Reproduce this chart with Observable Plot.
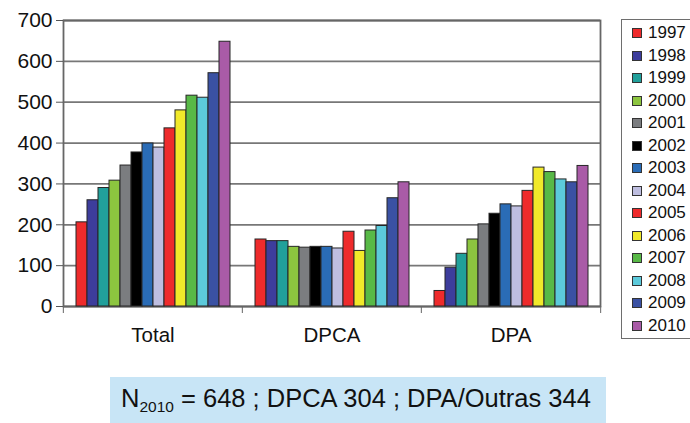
<!DOCTYPE html>
<html>
<head>
<meta charset="utf-8">
<script src="https://cdn.jsdelivr.net/npm/d3@7"></script>
<script src="https://cdn.jsdelivr.net/npm/@observablehq/plot@0.6"></script>
<style>
  html, body { margin: 0; padding: 0; background: #fff; }
  #page { position: relative; width: 690px; height: 423px; overflow: hidden; font-family: "Liberation Sans", Arial, sans-serif; }
  #chart { position: absolute; left: 0; top: 0; }
  #legend { position: absolute; left: 621px; top: 19px; width: 90px; height: 320px; border: 1.5px solid #6e6e6e; box-sizing: border-box; }
  .row { position: absolute; left: 10px; height: 20px; display: flex; align-items: center; font-size: 17px; color: #111; }
  .sw { width: 8px; height: 8px; border: 1px solid #333; margin-right: 6px; }
  #caption { position: absolute; left: 110px; top: 377px; width: 496px; height: 50px; background: #c8e5f6; }
  #caption .txt { position: absolute; left: 11px; top: 7px; font-size: 25.5px; color: #111; white-space: nowrap; }
  #caption sub { font-size: 15.5px; vertical-align: -5px; }
</style>
</head>
<body>
<div id="page">
  <div id="chart"></div>
  <div id="legend"></div>
  <div id="caption"><div class="txt">N<sub>2010</sub> = 648 ; DPCA 304 ; DPA/Outras 344</div></div>
</div>
<script>
const groups = ["Total", "DPCA", "DPA"];
const years = ["1997","1998","1999","2000","2001","2002","2003","2004","2005","2006","2007","2008","2009","2010"];
const totalValues = [206, 260, 290, 308, 345, 377, 399, 389, 436, 480, 516, 511, 571, 648];
const dpcaValues  = [164, 160, 160, 146, 144, 146, 146, 142, 183, 136, 186, 197, 265, 304];
const dpaValues   = [38, 95, 129, 164, 201, 227, 250, 245, 283, 340, 329, 311, 304, 344];
const colors = ["#ee2b2c","#3d3d9c","#21a09b","#8cc53f","#7b7d80","#000000","#2a6cb6","#bebee0","#ee2b2c","#f1e92a","#58b947","#5ccadb","#3a51a3","#a95ba7"];
const yTicks = [0, 100, 200, 300, 400, 500, 600, 700];

const seriesByGroup = {Total: totalValues, DPCA: dpcaValues, DPA: dpaValues};
const data = groups.flatMap(g => years.map((y, i) => ({group: g, year: y, value: seriesByGroup[g][i]})));

const W = 690, H = 350, ML = 62, MR = 90, MT = 20, MB = 44;
const bw = (W - ML - MR) / groups.length;

const chart = Plot.plot({
  width: W, height: H,
  marginLeft: ML, marginRight: MR, marginTop: MT, marginBottom: MB,
  style: {fontFamily: "Liberation Sans, Arial, sans-serif", fontSize: "20px", color: "#111", background: "transparent"},
  fx: {domain: groups, padding: 0, label: null},
  x: {domain: years, paddingInner: 0, paddingOuter: 0.75, axis: null},
  y: {axis: null, domain: [0, 700]},
  color: {type: "ordinal", domain: years, range: colors},
  marks: [
    Plot.ruleY(yTicks, {stroke: "#777", strokeWidth: 1.8}),
    Plot.frame({facet: "super", stroke: "#666", strokeWidth: 1.8}),
    Plot.barY(data, {fx: "group", x: "year", y: "value", fill: "year", stroke: "#262626", strokeWidth: 1}),
    Plot.axisY({ticks: yTicks, tickSize: 7, tickPadding: 4, fontSize: 21, label: null, stroke: "#555"}),
    Plot.axisFx({anchor: "bottom", tickSize: 7, tickFormat: () => "", dx: -bw / 2, stroke: "#666", label: null}),
    Plot.axisFx({anchor: "bottom", ticks: ["DPA"], tickSize: 7, tickFormat: () => "", dx: bw / 2, stroke: "#666", label: null}),
    Plot.axisFx({anchor: "bottom", tickSize: 0, tickPadding: 21, fontSize: 20.5, label: null})
  ]
});
document.getElementById("chart").appendChild(chart);

const legend = document.getElementById("legend");
years.forEach((y, i) => {
  const row = document.createElement("div");
  row.className = "row";
  row.style.top = (3 + i * 22.5) + "px";
  const sw = document.createElement("div");
  sw.className = "sw";
  sw.style.background = colors[i];
  const t = document.createElement("span");
  t.textContent = y;
  row.appendChild(sw);
  row.appendChild(t);
  legend.appendChild(row);
});
</script>
</body>
</html>
